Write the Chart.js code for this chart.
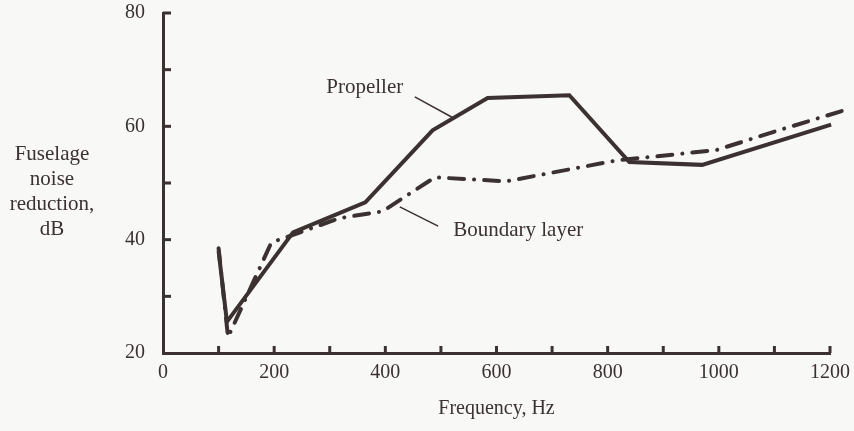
<!DOCTYPE html>
<html>
<head>
<meta charset="utf-8">
<script src="https://cdn.jsdelivr.net/npm/chart.js@4"></script>
<style>
  html, body { margin: 0; padding: 0; background: #f8f8f7; }
  #wrap { width: 854px; height: 431px; position: relative; }
</style>
</head>
<body>
<div id="wrap"><canvas id="noiseChart"></canvas></div>
<script>
// Propeller curve (solid)
const propFreq = [100, 115, 234, 364, 485, 584, 731, 839, 970, 1202];
const propDb   = [38, 25.5, 41.3, 46.6, 59.3, 65, 65.5, 53.7, 53.2, 60.3];

// Boundary layer curve (dash-dot)
const bndFreq = [100, 117, 195, 318, 395, 489, 618, 817, 995, 1108, 1238];
const bndDb   = [38.5, 22.8, 39.5, 43.8, 45, 51, 50.3, 54, 55.8, 59.3, 63.2];

const xLabels = ['0', '200', '400', '600', '800', '1000', '1200'];
const yLabels = ['20', '40', '60', '80'];

const yTitleLines = ['Fuselage', 'noise', 'reduction,', 'dB'];
const xTitle = 'Frequency, Hz';

const ink = '#3b3131';
const font = '"Liberation Serif", "DejaVu Serif", serif';

const toPoints = (xs, ys) => xs.map((x, i) => ({ x: x, y: ys[i] }));

// labels with leader lines, placed in data units
const notes = [
    { text: 'Propeller', at: [363, 66.8], from: [453, 65.2], to: [520, 61.6] },
    { text: 'Boundary layer', at: [639, 41.7], from: [426, 45.8], to: [495, 42.4] }
];

const extras = {
    id: 'extras',
    afterDraw(chart) {
        const ctx = chart.ctx;
        const xs = chart.scales.x;
        const ys = chart.scales.y;
        const area = chart.chartArea;
        ctx.save();
        ctx.strokeStyle = ink;
        ctx.lineWidth = 3;
        ctx.lineCap = 'butt';
        // inward ticks
        xs.ticks.forEach(t => {
            if (t.value === 0) return;
            const px = xs.getPixelForValue(t.value);
            ctx.beginPath();
            ctx.moveTo(px, area.bottom);
            ctx.lineTo(px, area.bottom - 7);
            ctx.stroke();
        });
        ys.ticks.forEach(t => {
            if (t.value === 20) return;
            const py = ys.getPixelForValue(t.value);
            ctx.beginPath();
            ctx.moveTo(area.left, py);
            ctx.lineTo(area.left + 8, py);
            ctx.stroke();
        });
        // y title, horizontal lines
        ctx.fillStyle = ink;
        ctx.font = '21px ' + font;
        ctx.textAlign = 'center';
        ctx.textBaseline = 'middle';
        yTitleLines.forEach((s, i) => ctx.fillText(s, 52, 154 + i * 25));
        // annotations
        ctx.lineWidth = 1.5;
        ctx.font = '21px ' + font;
        notes.forEach(n => {
            ctx.fillText(n.text, xs.getPixelForValue(n.at[0]), ys.getPixelForValue(n.at[1]));
            ctx.beginPath();
            ctx.moveTo(xs.getPixelForValue(n.from[0]), ys.getPixelForValue(n.from[1]));
            ctx.lineTo(xs.getPixelForValue(n.to[0]), ys.getPixelForValue(n.to[1]));
            ctx.stroke();
        });
        ctx.restore();
    }
};

new Chart(document.getElementById('noiseChart'), {
    type: 'line',
    data: {
        datasets: [
            {
                label: 'Propeller',
                data: toPoints(propFreq, propDb),
                borderColor: ink,
                borderWidth: 4,
                pointRadius: 0,
                tension: 0,
                fill: false,
                clip: false
            },
            {
                label: 'Boundary layer',
                data: toPoints(bndFreq, bndDb),
                borderColor: ink,
                borderWidth: 4,
                borderDash: [15, 10, 0.1, 10],
                borderCapStyle: 'round',
                pointRadius: 0,
                tension: 0,
                fill: false,
                clip: false
            }
        ]
    },
    options: {
        responsive: true,
        maintainAspectRatio: false,
        animation: false,
        layout: { padding: { top: 13, right: 24, left: 0, bottom: 0 } },
        plugins: {
            legend: { display: false },
            tooltip: { enabled: false }
        },
        scales: {
            x: {
                type: 'linear',
                min: 0,
                max: 1200,
                afterFit: (s) => { s.height = 78; s.paddingLeft = 0; s.paddingRight = 0; },
                ticks: {
                    stepSize: 100,
                    autoSkip: false,
                    maxRotation: 0,
                    padding: 8,
                    color: ink,
                    font: { family: font, size: 20 },
                    callback: (v) => (v % 200 === 0 ? xLabels[v / 200] : '')
                },
                grid: { display: true, drawOnChartArea: false, drawTicks: false },
                border: { display: true, color: ink, width: 3 },
                title: {
                    display: true,
                    text: xTitle,
                    color: ink,
                    font: { family: font, size: 20 },
                    padding: { top: 0, bottom: 10 }
                }
            },
            y: {
                min: 20,
                max: 80,
                afterFit: (s) => { s.width = 163; s.paddingTop = 0; s.paddingBottom = 0; },
                ticks: {
                    stepSize: 10,
                    autoSkip: false,
                    padding: 18,
                    color: ink,
                    font: { family: font, size: 20 },
                    callback: (v) => (v % 20 === 0 ? yLabels[(v - 20) / 20] : '')
                },
                grid: { display: true, drawOnChartArea: false, drawTicks: false },
                border: { display: true, color: ink, width: 3 }
            }
        }
    },
    plugins: [extras]
});
</script>
</body>
</html>
